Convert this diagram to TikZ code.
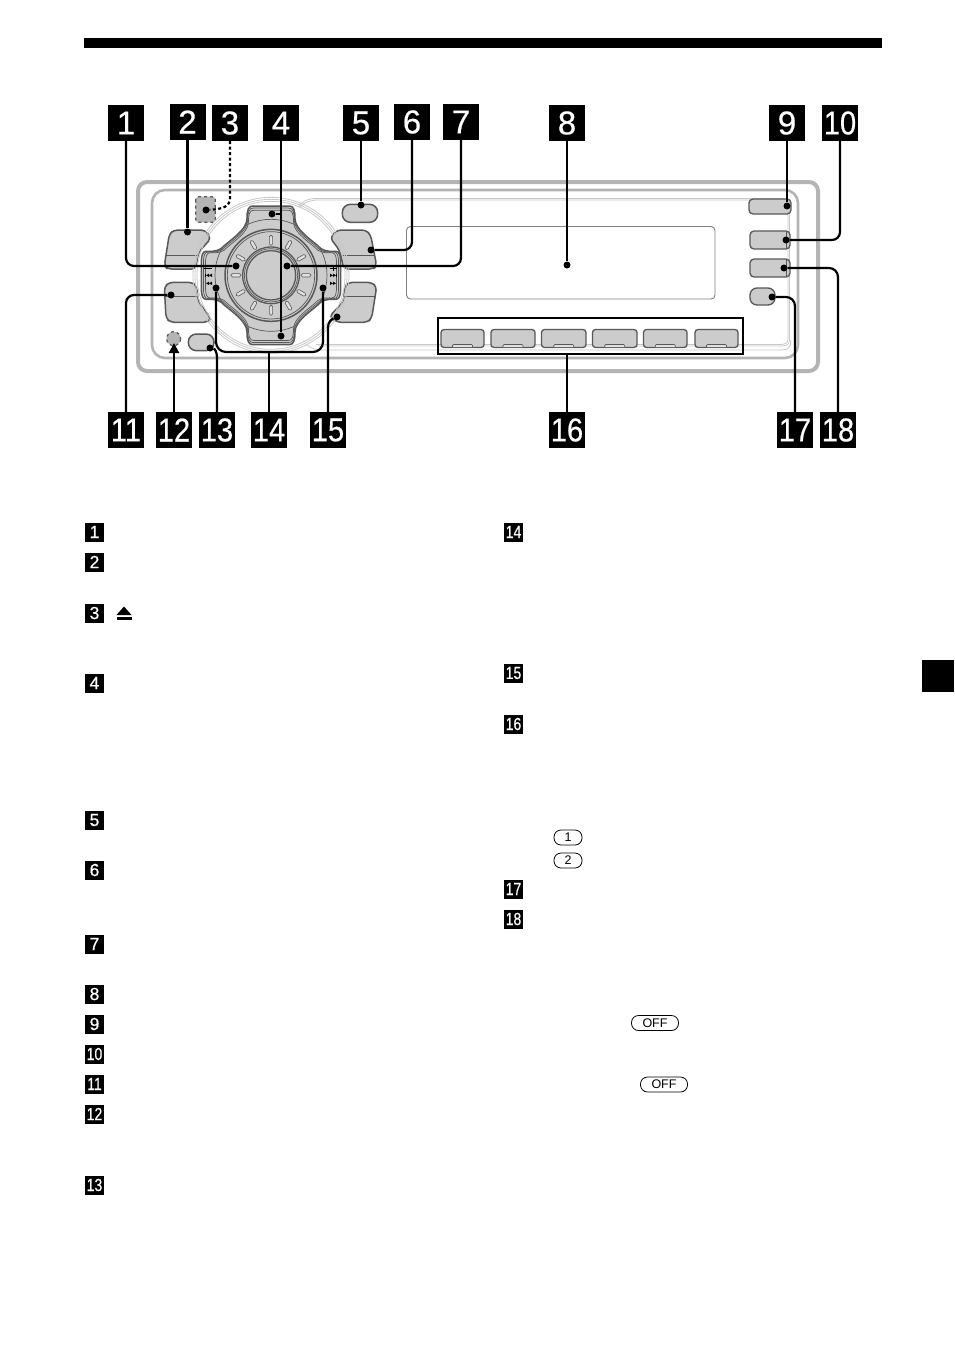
\documentclass[tikz,border=0pt]{standalone}
\usepackage{fontspec}
\usepackage{graphicx}
\setmainfont{Liberation Sans}
\newfontfamily\calloutfont[FakeBold=0.5]{Liberation Sans}
\usetikzlibrary{arrows.meta}
\definecolor{bfill}{HTML}{CCCCCC}
\definecolor{bdark}{HTML}{585858}
\definecolor{rimc}{HTML}{B4B4B4}
\definecolor{lightl}{HTML}{C8C8C8}
\tikzset{
  cbox/.style={fill=black,text=white,inner sep=0pt,minimum size=36pt,font=\calloutfont\fontsize{33}{33}\selectfont},
  mbox/.style={fill=black,text=white,inner sep=0pt,minimum size=19pt,font=\calloutfont\fontsize{17.5}{17.5}\selectfont},
  dotn/.style={circle,fill=black,inner sep=0pt,minimum size=7pt},
  lead/.style={line width=2.2pt,draw=black},
  btn/.style={fill=bfill,draw=bdark,line width=1.3pt,line join=round},
  preset/.style={btn,rounded corners=3pt},
  pill/.style={draw=black,line width=0.8pt,rounded corners=7pt,inner sep=0pt,minimum height=15pt,font=\fontsize{12.5}{12.5}\selectfont},
  rimline/.style={draw=lightl,line width=0.8pt},
  tick/.style={fill=bfill!60,draw=bdark,line width=0.6pt,rounded corners=1.5pt}
}
\newcommand{\twod}[1]{\scalebox{0.88}[1]{#1}}
\newcommand{\knobpath}{(-55,-208) -- (55,-208) .. controls (68,-208) and (72,-195) .. (72,-170) .. controls (72,-135) and (125,-105) .. (150,-80) .. controls (165,-70) and (185,-72) .. (195,-72) .. controls (205,-72) and (208,-60) .. (209,-45) -- (209,45) .. controls (208,60) and (205,72) .. (195,72) .. controls (185,72) and (165,70) .. (150,80) .. controls (125,105) and (72,135) .. (72,170) .. controls (72,195) and (68,208) .. (55,208) -- (-55,208) .. controls (-68,208) and (-72,195) .. (-72,170) .. controls (-72,135) and (-125,105) .. (-150,80) .. controls (-165,70) and (-185,72) .. (-195,72) .. controls (-205,72) and (-208,60) .. (-209,45) -- (-209,-45) .. controls (-208,-60) and (-205,-72) .. (-195,-72) .. controls (-185,-72) and (-165,-70) .. (-150,-80) .. controls (-125,-105) and (-72,-135) .. (-72,-170) .. controls (-72,-195) and (-68,-208) .. (-55,-208) -- cycle}
\begin{document}
\begin{tikzpicture}[x=1pt,y=-1pt]
\useasboundingbox (0,0) rectangle (954,1352);
\fill[white] (0,0) rectangle (954,1352);
% header bar and thumb tab
\fill[black] (84,38) rectangle (882,48);
\fill[black] (922,660) rectangle (954,692);
% device body
\draw[rimc,line width=4pt,rounded corners=9pt] (138,182) rectangle (818,371);
\draw[rimc,line width=2.6pt,rounded corners=13pt] (152,190) rectangle (798,358);
\draw[rimline] (298,207) .. controls (302,201) and (308,198.5) .. (316,198.5) -- (782,198.5) .. controls (788,198.5) and (789.5,202) .. (789.5,206) -- (789.5,340) .. controls (789.5,345) and (786,346) .. (780,346) -- (318,346);
\draw[rimline] (300,207) .. controls (304,202.5) and (310,200) .. (318,200) -- (782,200) .. controls (786,200) and (788,203) .. (788,207) -- (788,339) .. controls (788,343) and (785,344.5) .. (780,344.5) -- (316,344.5);
\draw[rimline] (306,344) .. controls (312,349) and (316,350) .. (322,350) -- (782,350) .. controls (788,350) and (791,347) .. (791,340);
% display
\draw[draw=gray,line width=0.9pt,rounded corners=4pt] (406.5,226.5) rectangle (715,299);
% zoom-based scope for the left part
\begin{scope}[shift={(130pt,-170pt)},x=0.33333pt,y=-0.33333pt]
  % side buttons
  \path[btn,line width=1.5pt,rounded corners=4pt] (103,287) -- (118,192) -- (132,180) -- (225,180) -- (243,205) -- (205,248) -- (197,297) -- (112,297) -- cycle;
  \draw[bdark,line width=.8pt] (108,257) -- (203,257);
  \path[btn,line width=1.5pt,rounded corners=4pt] (103,350) -- (118,337) -- (188,337) -- (200,350) -- (205,395) -- (243,445) -- (232,457) -- (122,457) -- (108,445) -- cycle;
  \draw[bdark,line width=.8pt] (105,378) -- (202,378);
  \path[btn,line width=1.5pt,rounded corners=4pt] (600,203) -- (622,180) -- (708,180) -- (722,195) -- (740,287) -- (730,297) -- (642,297) -- (628,240) -- cycle;
  \draw[bdark,line width=.8pt] (635,257) -- (736,257);
  \path[btn,line width=1.5pt,rounded corners=4pt] (655,337) -- (725,337) -- (740,350) -- (725,445) -- (712,457) -- (622,457) -- (598,440) -- (640,395) -- (645,350) -- cycle;
  \draw[bdark,line width=.8pt] (642,378) -- (736,378);
  % pills
  \draw[btn,line width=1.5pt,rounded corners=8pt] (637,103) rectangle (743,157);
  \draw[btn,line width=1.5pt,rounded corners=8pt] (175,492) rectangle (252,542);
  % dashed square and round mark
  \draw[btn,dashed,line width=1.2pt,rounded corners=3pt,fill=rimc] (197,80) rectangle (256,157);
  \draw[btn,dashed,line width=1.2pt,fill=rimc] (131,506) circle (21);
  % knob
  \begin{scope}[shift={(141pt,-105.33pt)}]
    \foreach \r in {222,228,234} \draw[rimline] (0,0) circle (\r);
    \draw[btn,line width=1.5pt] \knobpath;
    \begin{scope}[scale=0.97]
      \draw[draw=bdark,line width=.7pt] \knobpath;
    \end{scope}
    \begin{scope}[scale=0.94]
      \draw[draw=bdark,line width=.7pt] \knobpath;
    \end{scope}
    \begin{scope}
      \clip \knobpath;
      \draw[bdark,line width=.7pt] (0,0) circle (168);
    \end{scope}
    \draw[bdark,line width=1.5pt] (0,0) circle (138);
    \draw[bdark,line width=.7pt] (0,0) circle (131);
    \foreach \a in {0,30,...,330} {
      \begin{scope}[rotate=\a]
        \draw[tick] (-5,-120) rectangle (5,-90);
      \end{scope}
    }
    \draw[bdark,line width=1.3pt] (0,0) circle (85);
    \draw[bdark,line width=.7pt] (0,0) circle (80);
    \draw[bdark,line width=1.3pt,fill=bfill] (0,0) circle (74);
    % side icons
    \draw[black,line width=.7pt] (-200,-20) -- (-178,-20);
    \draw[black,line width=.7pt] (178,-20) -- (198,-20) (188,-28) -- (188,-12);
    \foreach \s in {-1,1} {
      \fill[black] (\s*186,0) -- (\s*177,-5) -- (\s*177,5) -- cycle;
      \fill[black] (\s*195,0) -- (\s*186,-5) -- (\s*186,5) -- cycle;
      \draw[black,line width=.8pt] (\s*197,-5) -- (\s*197,5);
      \fill[black] (\s*186,24) -- (\s*177,19) -- (\s*177,29) -- cycle;
      \fill[black] (\s*195,24) -- (\s*186,19) -- (\s*186,29) -- cycle;
    }
  \end{scope}
\end{scope}
% right side buttons
\draw[btn,rounded corners=4pt] (749,199) rectangle (791,214);
\draw[btn,rounded corners=4pt] (750,231) rectangle (790,249);
\draw[btn,rounded corners=4pt] (750,259) rectangle (790,277);
\draw[btn,rounded corners=7pt] (750,288) rectangle (775,305);
\draw[bdark,line width=.8pt] (786,231) -- (786,249) (786,259) -- (786,277);
% preset buttons
\foreach \a/\b in {441/484,491/535,541.5/586,592.5/637,643.5/687,695/738} {
  \draw[preset] (\a,329.5) rectangle (\b,347.5);
  \draw[bdark,line width=.7pt,fill=bfill!60,rounded corners=1pt] ({(\a+\b)/2-10},347) -- ({(\a+\b)/2-10},344.5) -- ({(\a+\b)/2+10},344.5) -- ({(\a+\b)/2+10},347);
}
\node[draw=black,line width=2pt,inner sep=0pt,minimum width=305pt,minimum height=36pt] (presetframe) at (590,335.5) {};
% callout boxes
\node[cbox] (c1) at (126,123) {1};
\node[cbox] (c2) at (187.5,122) {2};
\node[cbox] (c3) at (230,123) {3};
\node[cbox] (c4) at (281,123) {4};
\node[cbox] (c5) at (361,123) {5};
\node[cbox] (c6) at (412,122) {6};
\node[cbox] (c7) at (461,122) {7};
\node[cbox] (c8) at (567,123) {8};
\node[cbox] (c9) at (787,123) {9};
\node[cbox] (c10) at (840,123) {\twod{10}};
\node[cbox] (c11) at (126,430) {\twod{11}};
\node[cbox] (c12) at (174,430) {\twod{12}};
\node[cbox] (c13) at (217,430) {\twod{13}};
\node[cbox] (c14) at (269,430) {\twod{14}};
\node[cbox] (c15) at (328,430) {\twod{15}};
\node[cbox] (c16) at (567,430) {\twod{16}};
\node[cbox] (c17) at (795,430) {\twod{17}};
\node[cbox] (c18) at (838,430) {\twod{18}};
% dots
\node[dotn] (d1) at (236,266) {};
\node[dotn] (d2) at (187.5,232) {};
\node[dotn] (d3) at (206,210) {};
\node[dotn] (d4) at (281,336) {};
\node[dotn] (d4b) at (272,214) {};
\node[dotn] (d5) at (361,205) {};
\node[dotn] (d6) at (371,250) {};
\node[dotn] (d7) at (287,266) {};
\node[dotn] (d8) at (567,265) {};
\node[dotn] (d9) at (787,206) {};
\node[dotn] (d10) at (786,240) {};
\node[dotn] (d11) at (171,295) {};
\node[dotn] (d13) at (210,348) {};
\node[dotn] (d14a) at (216,288) {};
\node[dotn] (d14b) at (323,288) {};
\node[dotn] (d15) at (337,317) {};
\node[dotn] (d17) at (772,297) {};
\node[dotn] (d18) at (784,268) {};
\coordinate (t12) at (174,343);
\coordinate (j14) at (269,352);
% connectors
\draw[lead,rounded corners=8pt] (c1.south) |- (d1);
\draw[lead] (c2.south) -- (d2);
\draw[line width=2.2pt,dash pattern=on 3pt off 2.5pt] (c3.south) -- (230,198) .. controls (230,206) and (224,209) .. (d3);
\draw[lead] (c4.south) -- (d4);
\draw[lead] (d4b) -- (d4b -| c4);
\draw[lead] (c5.south) -- (d5);
\draw[lead,rounded corners=8pt] (c6.south) |- (d6);
\draw[lead,rounded corners=8pt] (c7.south) |- (d7);
\draw[lead] (c8.south) -- (d8);
\draw[lead] (c9.south) -- (d9);
\draw[lead,rounded corners=8pt] (c10.south) |- (d10);
\draw[lead,rounded corners=8pt] (c11.north) |- (d11);
\draw[lead,-{Triangle[length=10pt,width=10pt]}] (c12.north) -- (t12);
\draw[lead] (c13.north) -- (217,358) .. controls (217,352) and (215,349) .. (d13);
\draw[lead,rounded corners=10pt] (d14a) |- (j14) -| (d14b);
\draw[lead] (c14.north) -- (j14);
\draw[lead] (c15.north) -- (328,327) .. controls (328,322) and (332,319) .. (d15);
\draw[lead] (c16.north) -- (presetframe.south -| c16);
\draw[lead,rounded corners=9pt] (c17.north) |- (d17);
\draw[lead,rounded corners=9pt] (c18.north) |- (d18);
% list markers, left column
\foreach \n/\y/\t in {m1/532/1,m2/562/2,m3/613/3,m4/683/4,m5/820/5,m6/870/6,m7/944/7,m8/994/8,m9/1024/9}
  \node[mbox] (\n) at (94.5,\y) {\t};
\foreach \n/\y/\t in {m10/1054/10,m11/1084/11,m12/1114/12,m13/1185/13}
  \node[mbox] (\n) at (94.5,\y) {\scalebox{0.8}[1]{\t}};
% list markers, right column
\foreach \n/\y/\t in {m14/532/14,m15/673/15,m16/724/16,m17/889/17,m18/919/18}
  \node[mbox] (\n) at (513.5,\y) {\scalebox{0.8}[1]{\t}};
% eject symbol
\fill[black] (124,606.5) -- (131.5,615) -- (116.5,615) -- cycle;
\fill[black] (116.5,617) rectangle (131.5,620);
% key pills
\node[pill,minimum width=28pt] (k1) at (568,837.5) {1};
\node[pill,minimum width=28pt] (k2) at (568,860.5) {2};
\node[pill,minimum width=47pt] (k3) at (655,1023) {OFF};
\node[pill,minimum width=47pt] (k4) at (664,1084.5) {OFF};
\end{tikzpicture}
\end{document}
